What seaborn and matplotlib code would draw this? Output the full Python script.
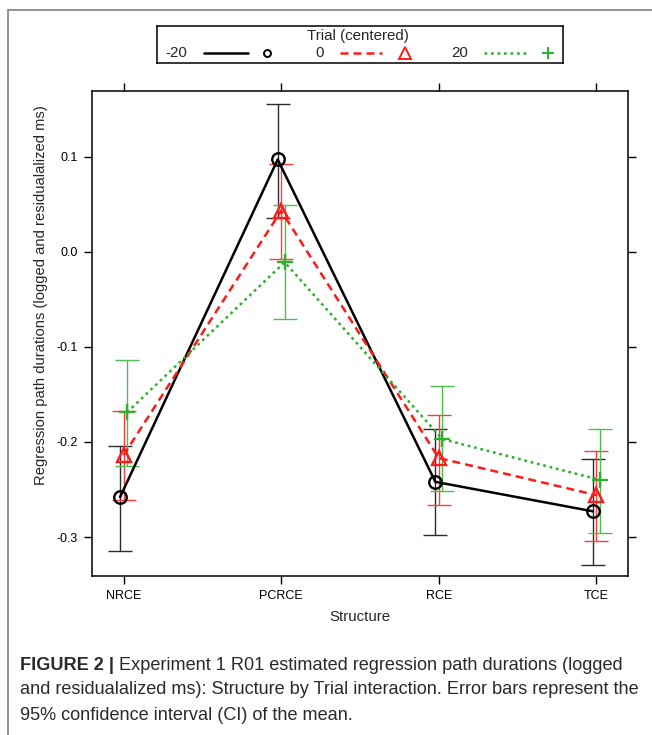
import numpy as np
import pandas as pd
import matplotlib
matplotlib.use("Agg")
import matplotlib.pyplot as plt
from matplotlib.lines import Line2D
import seaborn as sns

sns.set_style("ticks")
plt.rcParams['font.family'] = ['Liberation Sans', 'DejaVu Sans']

# data
structures = ["NRCE", "PCRCE", "RCE", "TCE"]
trials = ["-20", "0", "20"]

mean_m20 = [-0.258, 0.097, -0.242, -0.273]
lo_m20 = [-0.315, 0.035, -0.298, -0.329]
hi_m20 = [-0.204, 0.155, -0.186, -0.218]

mean_0 = [-0.214, 0.043, -0.217, -0.256]
lo_0 = [-0.261, -0.008, -0.266, -0.304]
hi_0 = [-0.168, 0.092, -0.172, -0.210]

mean_20 = [-0.169, -0.011, -0.197, -0.240]
lo_20 = [-0.225, -0.071, -0.252, -0.296]
hi_20 = [-0.114, 0.049, -0.141, -0.186]

ytick_vals = [-0.3, -0.2, -0.1, 0.0, 0.1]
ytick_labels = ["-0.3", "-0.2", "-0.1", "0.0", "0.1"]

line_colors = ["#000000", "#FF1A1A", "#2DB02D"]
bar_colors = ["#2b2b2b", "#FF3b3b", "#4CBF4C"]
markers = ["o", "^", "+"]
linestyles = ["-", (0, (3.2, 2.0)), (0, (1.1, 1.5))]

means = [mean_m20, mean_0, mean_20]
los = [lo_m20, lo_0, lo_20]
his = [hi_m20, hi_0, hi_20]

rows = []
for t, m in zip(trials, means):
    for s, v in zip(structures, m):
        rows.append({"Structure": s, "Trial": t, "value": v})
df = pd.DataFrame(rows)

fig = plt.figure(figsize=(6.52, 7.35), dpi=100)
ax = fig.add_axes([92 / 652, 1 - 576 / 735, 536 / 652, 485 / 735])

sns.pointplot(data=df, x="Structure", y="value", hue="Trial", order=structures,
              hue_order=trials, palette=line_colors, markers=markers,
              linestyles=["-", "--", ":"], dodge=0.044, errorbar=None,
              legend=False, ax=ax)

plot_lines = list(ax.lines)
msizes = [9, 10, 11]
for i, ln in enumerate(plot_lines):
    ln.set_linestyle(linestyles[i])
    ln.set_linewidth(1.8)
    ln.set_markerfacecolor("none")
    ln.set_markeredgecolor(line_colors[i])
    ln.set_markersize(msizes[i])
    ln.set_markeredgewidth(1.7)
    ln.set_zorder(3)
    xs = ln.get_xdata()
    m = np.array(means[i])
    ax.errorbar(xs, m, yerr=[m - np.array(los[i]), np.array(his[i]) - m],
                fmt="none", ecolor=bar_colors[i], elinewidth=1.0,
                capsize=8.3, capthick=1.0, zorder=2)

ax.set_xlim(-0.2, 3.2)
ax.set_ylim(-0.341, 0.169)
ax.set_yticks(ytick_vals)
ax.set_yticklabels(ytick_labels)
for sp in ax.spines.values():
    sp.set_visible(True)
    sp.set_linewidth(1.1)
    sp.set_color("black")
ax.tick_params(top=True, right=True, labeltop=False, labelright=False,
               direction="out", length=6, width=1.0, labelsize=9, pad=4,
               colors="black")
ax.set_xlabel("Structure", fontsize=10.8, labelpad=6)
ax.set_ylabel("Regression path durations (logged and residualalized ms)",
              fontsize=10.6)
ax.yaxis.set_label_coords(-0.082, 0.58)

# key on top
lax = fig.add_axes([157 / 652, 1 - 63 / 735, 406 / 652, 37 / 735])
lax.set_xlim(157, 563)
lax.set_ylim(63, 26)
lax.set_xticks([])
lax.set_yticks([])
for sp in lax.spines.values():
    sp.set_linewidth(1.1)
    sp.set_color("black")
lax.text(358, 36, "Trial (centered)", ha="center", va="center", fontsize=10.9)
key_text_x = [176, 320, 460]
key_line_x = [(204, 248), (340, 382), (484, 527)]
key_mark_x = [267, 405, 548]
key_msize = [5, 8, 9]
for i, t in enumerate(trials):
    lax.text(key_text_x[i], 53, t, ha="center", va="center", fontsize=10.9)
    lax.plot(key_line_x[i], [53, 53], color=line_colors[i], lw=1.8,
             linestyle=linestyles[i])
    lax.plot([key_mark_x[i]], [53], marker=markers[i], color=line_colors[i],
             mfc="none", ms=key_msize[i], mew=1.4)

# outer frame lines
fig.add_artist(Line2D([8 / 652, 1], [1 - 10 / 735, 1 - 10 / 735], color="#8a8a8a", lw=1.3))
fig.add_artist(Line2D([8 / 652, 8 / 652], [0, 1 - 10 / 735], color="#8a8a8a", lw=1.3))

# caption
cap_color = "#2a2a2a"
cap_size = 13.1
bold = fig.text(20 / 652, 1 - 665 / 735, "FIGURE 2 |", fontsize=cap_size,
                fontweight="bold", color=cap_color, va="center")
fig.canvas.draw()
bb = bold.get_window_extent(renderer=fig.canvas.get_renderer())
x_after = (bb.x1 + 5) / fig.bbox.width
fig.text(x_after, 1 - 665 / 735,
         "Experiment 1 R01 estimated regression path durations (logged",
         fontsize=cap_size, color=cap_color, va="center")
fig.text(20 / 652, 1 - 690 / 735,
         "and residualalized ms): Structure by Trial interaction. Error bars represent the",
         fontsize=cap_size, color=cap_color, va="center")
fig.text(20 / 652, 1 - 715 / 735,
         "95% confidence interval (CI) of the mean.",
         fontsize=cap_size, color=cap_color, va="center")

fig.savefig("out.png", dpi=100)
